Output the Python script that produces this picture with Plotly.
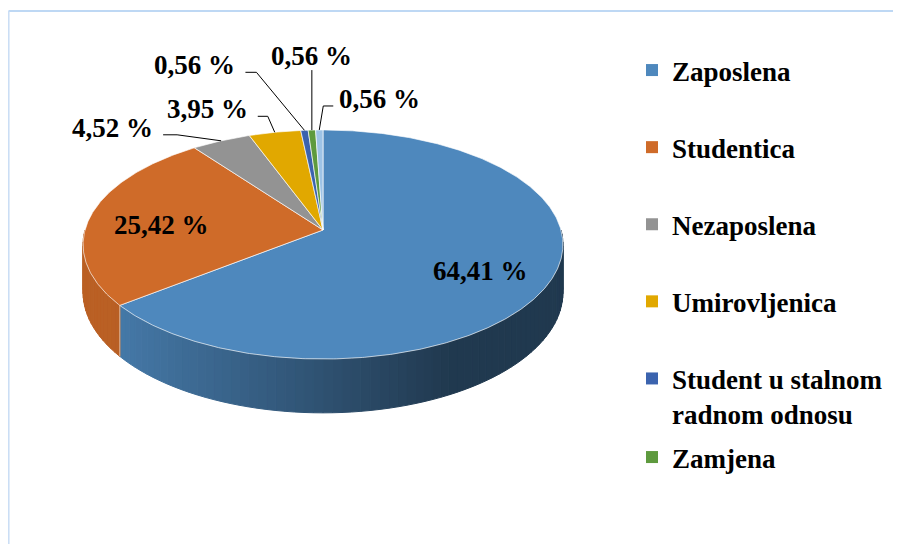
import numpy as np
import plotly.graph_objects as go

# ---------------- data ----------------
categories = ["Zaposlena", "Studentica", "Nezaposlena", "Umirovljenica",
              "Student u stalnom radnom odnosu", "Zamjena", "Ostalo"]
values = [64.41, 25.42, 4.52, 3.95, 0.56, 0.56, 0.56]
value_labels = ["64,41 %", "25,42 %", "4,52 %", "3,95 %", "0,56 %", "0,56 %", "0,56 %"]
legend_names = ["Zaposlena", "Studentica", "Nezaposlena", "Umirovljenica",
                "Student u stalnom<br>radnom odnosu", "Zamjena"]

# ---------------- style ----------------
colors = ["#4E88BD", "#CF6B29", "#939393", "#E1A800", "#3B63AE", "#5E9A3E", "#9DC3E6"]
FONT = "Liberation Serif"
FS = 27
PAGE_OFF = 8  # browser body margin

# perspective geometry of the tilted disc (page pixel space)
CX, CY, A, B, K, D0 = 323.0, 230.0, 238.0, 112.7, 0.1266, 47.0

# label placement (offsets from the slice's rim anchor)
inside_r = 0.7
label_dy = 5
leader_elbow = {2: (-44, -6), 3: (-7, -16), 4: (-48, -58), 5: (0, -60), 6: (4, -24)}
leader_end = {2: (-58, -6), 3: (-17, -16), 4: (-59, -58), 5: (0, -60), 6: (14, -24)}
label_side = {2: "right", 3: "right", 4: "right", 5: "center", 6: "left"}


def proj(theta_deg, r=1.0, drop=False):
    t = np.radians(theta_deg)
    u = r * np.sin(t)
    v = r * np.cos(t)
    w = 1 + K * v
    x = CX + A * u / w
    y = CY - B * v / w
    if drop:
        y = y + D0 / w
    return x, y


def hex2rgb(h):
    h = h.lstrip("#")
    return tuple(int(h[i:i + 2], 16) for i in (0, 2, 4))


def shade(hexc, x):
    f = 0.9 - 0.48 * np.clip((x - 110) / 340.0, 0, 1)
    r, g, b = hex2rgb(hexc)
    return "rgb(%d,%d,%d)" % (r * f, g * f, b * f)


def px(xp):
    return (xp - PAGE_OFF) / 901.0


def py(yp):
    return 1 - (yp - PAGE_OFF) / 544.0


total = sum(values)
cum = np.concatenate([[0], np.cumsum(values)]) / total * 360.0

fig = go.Figure()

# ---------------- side wall ----------------
brk = set(np.linspace(90, 270, 91).tolist())
for a in cum:
    if 90 < a < 270:
        brk.add(float(a))
brk = sorted(brk)
for a0, a1 in zip(brk[:-1], brk[1:]):
    mid = 0.5 * (a0 + a1)
    idx = int(np.searchsorted(cum, mid) - 1)
    ts = np.linspace(a0, a1, 3)
    xt, yt = proj(ts)
    xb, yb = proj(ts[::-1], drop=True)
    xs = np.concatenate([xt, xb, xt[:1]])
    ys = np.concatenate([yt, yb, yt[:1]])
    c = shade(colors[idx], float(np.mean(xt)))
    fig.add_trace(go.Scatter(x=xs, y=ys, mode="lines", fill="toself", fillcolor=c,
                             line=dict(color=c, width=1), hoverinfo="skip",
                             showlegend=False))

# light seams on the wall at slice boundaries
for a in cum:
    if 90 < a < 270:
        x0, y0 = proj(a)
        x1, y1 = proj(a, drop=True)
        fig.add_trace(go.Scatter(x=[x0, x1], y=[y0, y1], mode="lines",
                                 line=dict(color="rgba(255,255,255,0.55)", width=1),
                                 hoverinfo="skip", showlegend=False))

# ---------------- top face ----------------
for i in range(len(values)):
    a0, a1 = cum[i], cum[i + 1]
    n = max(3, int((a1 - a0) * 2))
    ts = np.linspace(a0, a1, n)
    xa, ya = proj(ts)
    xs = np.concatenate([[CX], xa, [CX]])
    ys = np.concatenate([[CY], ya, [CY]])
    fig.add_trace(go.Scatter(x=xs, y=ys, mode="lines", fill="toself",
                             fillcolor=colors[i],
                             line=dict(color="rgba(255,255,255,0.65)", width=1),
                             name=categories[i], hoverinfo="text",
                             text=categories[i] + ": " + value_labels[i],
                             showlegend=False))

# ---------------- labels ----------------
annotations = []
for i in range(len(values)):
    mid = 0.5 * (cum[i] + cum[i + 1])
    if i in (0, 1):
        lx, ly = proj(mid, r=inside_r)
        annotations.append(dict(x=lx + 2, y=ly + label_dy, xref="x", yref="y",
                                text="<b>%s</b>" % value_labels[i],
                                showarrow=False, font=dict(family=FONT, size=FS, color="black"),
                                xanchor="center", yanchor="middle"))
    else:
        ax_, ay_ = proj(mid)
        ex, ey = ax_ + leader_elbow[i][0], ay_ + leader_elbow[i][1]
        tx, ty = ax_ + leader_end[i][0], ay_ + leader_end[i][1]
        fig.add_trace(go.Scatter(x=[ax_, ex, tx], y=[ay_, ey, ty], mode="lines",
                                 line=dict(color="black", width=1),
                                 hoverinfo="skip", showlegend=False))
        side = label_side[i]
        if side == "right":
            lx, ly = tx - 8, ty - 9
        elif side == "left":
            lx, ly = tx + 4, ty - 9
        else:
            lx, ly = tx, ty - 16
        annotations.append(dict(x=lx, y=ly + 2, xref="x", yref="y",
                                text="<b>%s</b>" % value_labels[i],
                                showarrow=False, font=dict(family=FONT, size=FS, color="black"),
                                xanchor=side, yanchor="middle"))

# ---------------- legend ----------------
for i, nm in enumerate(legend_names):
    fig.add_trace(go.Scatter(x=[None], y=[None], mode="markers",
                             marker=dict(symbol="square", size=12, color=colors[i]),
                             name=nm, legendgroup="g%d" % i,
                             legend="legend2" if i == 5 else "legend"))

fig.update_layout(
    width=901, height=544, autosize=False,
    margin=dict(l=0, r=0, t=0, b=0),
    paper_bgcolor="white", plot_bgcolor="white",
    xaxis=dict(range=[PAGE_OFF, 901 + PAGE_OFF], visible=False, domain=[0, 1], fixedrange=True),
    yaxis=dict(range=[544 + PAGE_OFF, PAGE_OFF], visible=False, domain=[0, 1], fixedrange=True),
    annotations=annotations,
    legend=dict(x=px(632), y=py(46), xanchor="left", yanchor="top",
                font=dict(family=FONT, size=FS, color="black", weight="bold"),
                tracegroupgap=39, valign="top", bgcolor="rgba(0,0,0,0)",
                itemclick=False, itemdoubleclick=False),
    legend2=dict(x=px(632), y=py(433), xanchor="left", yanchor="top",
                 font=dict(family=FONT, size=FS, color="black", weight="bold"),
                 bgcolor="rgba(0,0,0,0)", itemclick=False, itemdoubleclick=False),
    shapes=[
        dict(type="line", xref="paper", yref="paper", x0=px(8.5), x1=1, y0=py(11), y1=py(11),
             line=dict(color="#A9CBF0", width=1.5)),
        dict(type="line", xref="paper", yref="paper", x0=px(8.8), x1=px(8.8), y0=0, y1=py(11),
             line=dict(color="#C9DDF5", width=1.5)),
    ],
)

fig.write_html("out.html")
